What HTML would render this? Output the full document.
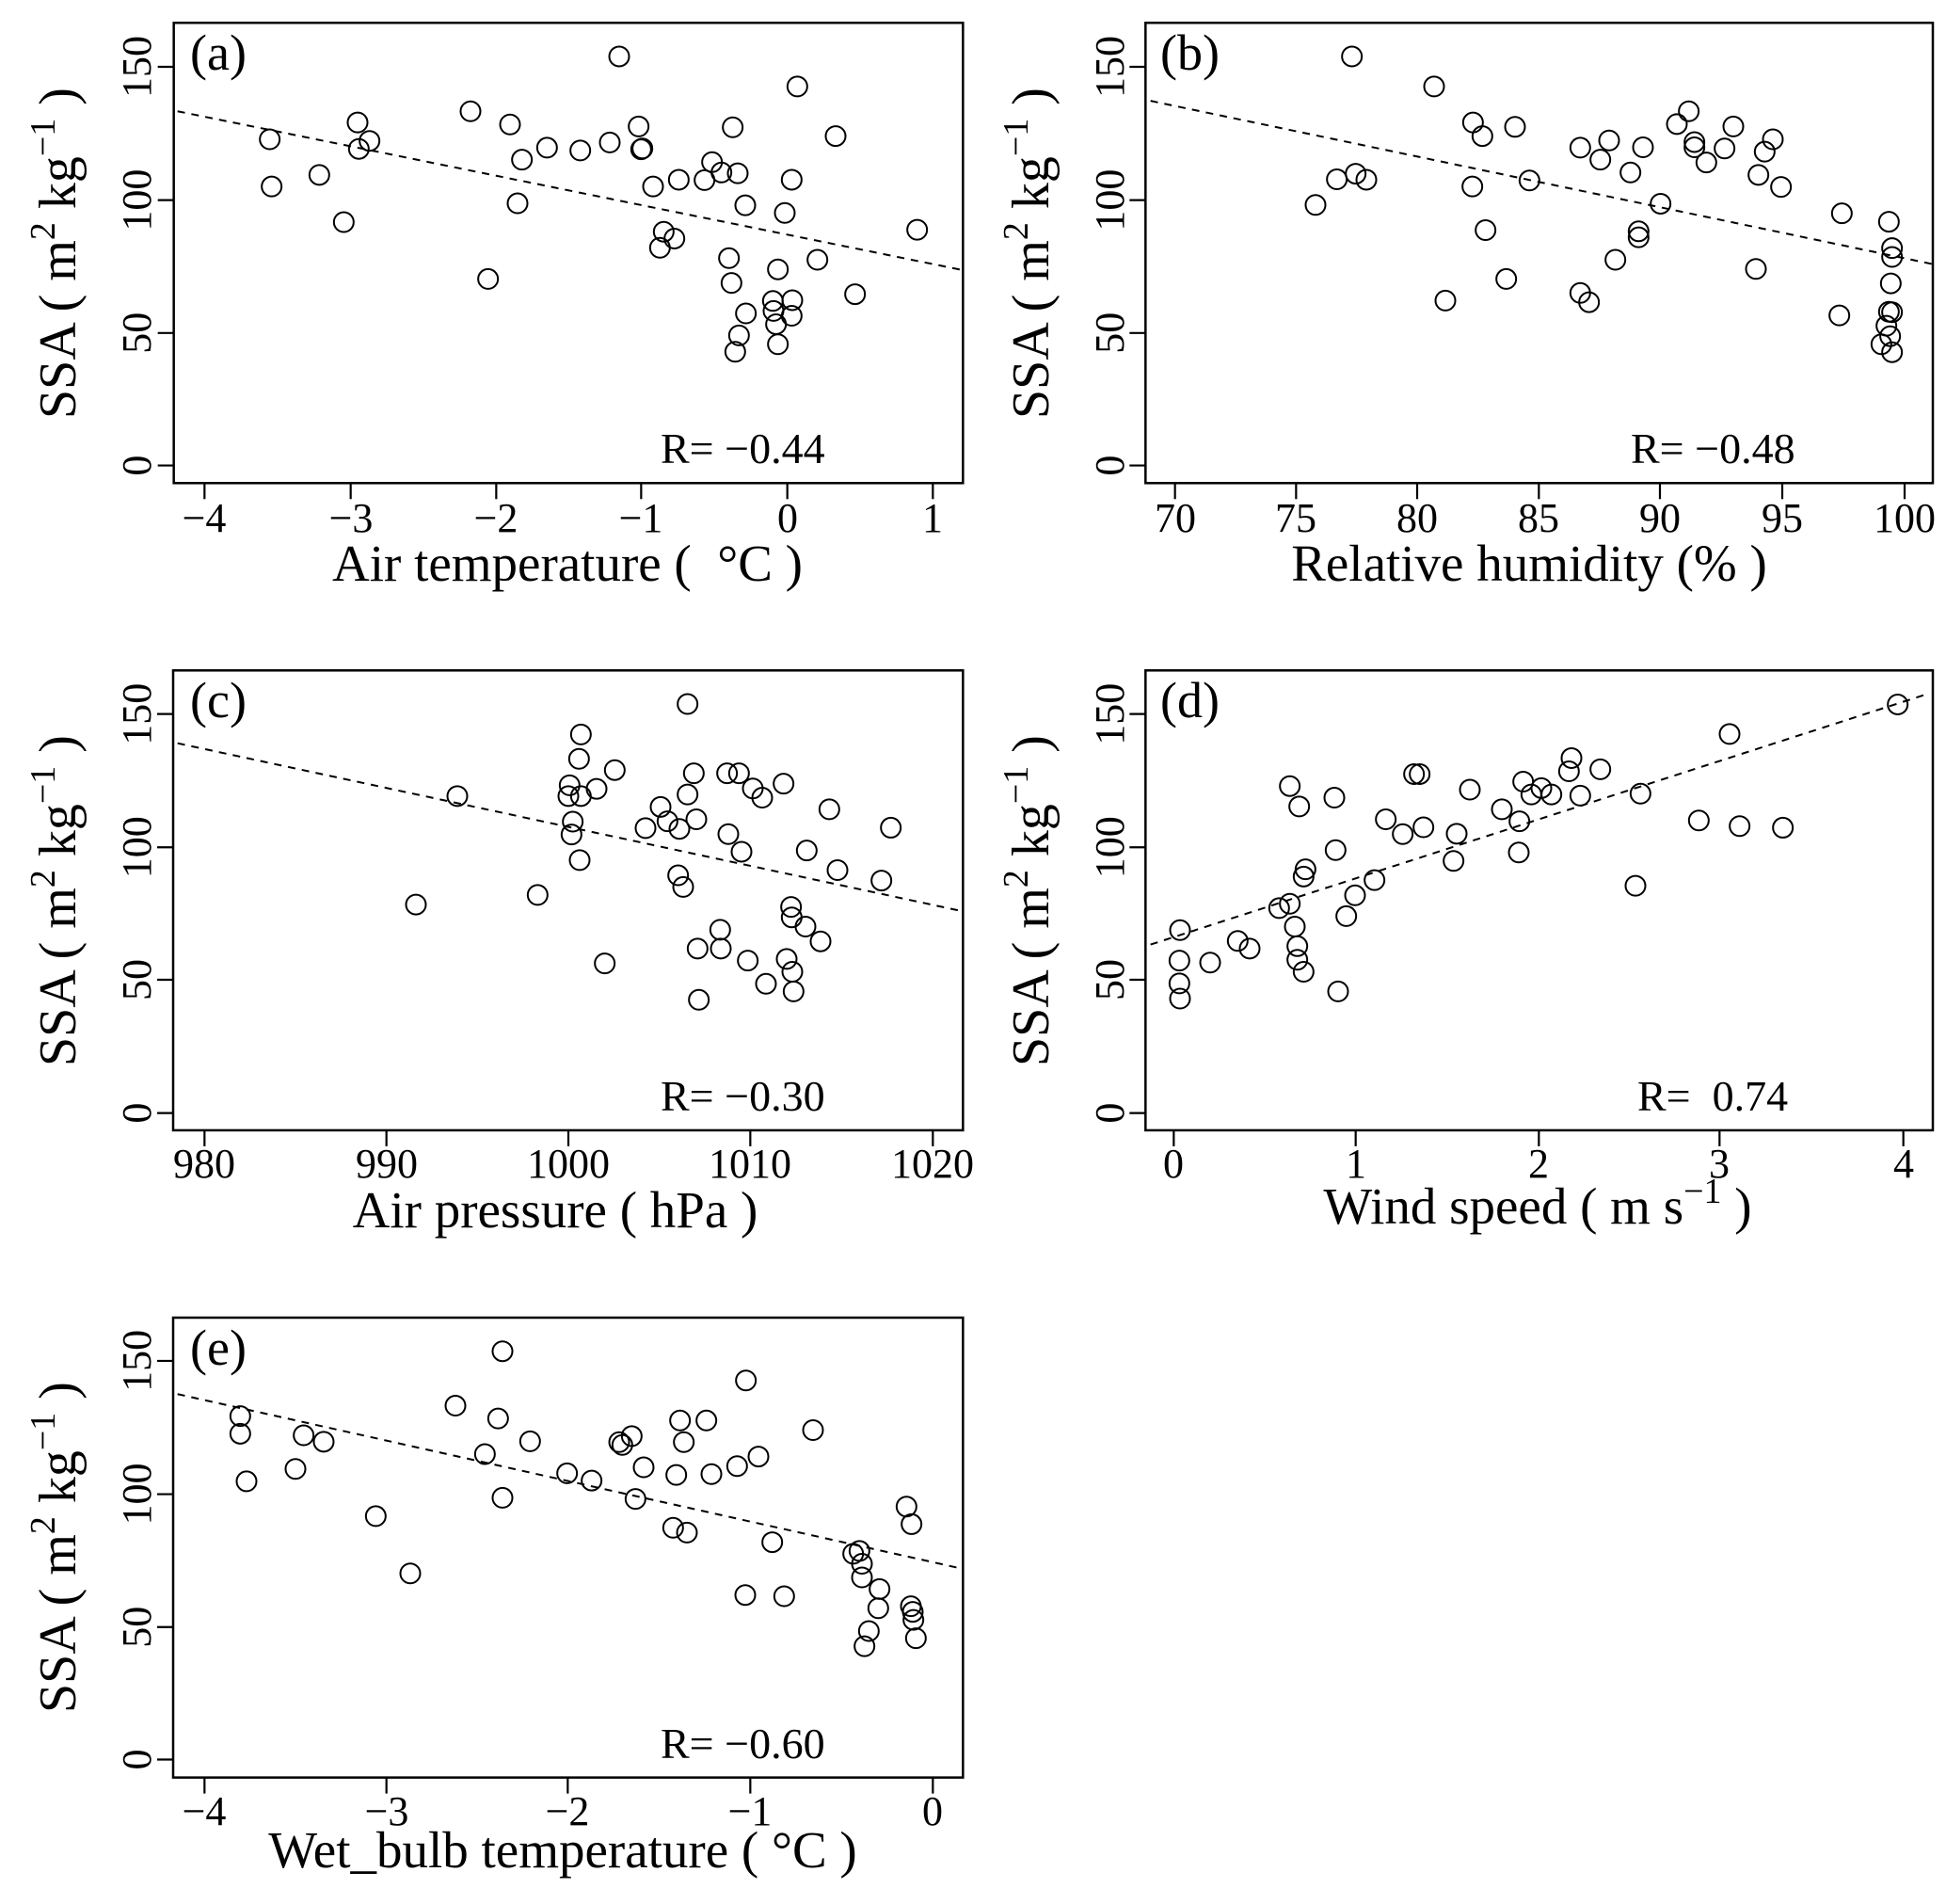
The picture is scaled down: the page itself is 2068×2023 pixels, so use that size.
<!DOCTYPE html>
<html><head><meta charset="utf-8"><style>
html,body{margin:0;padding:0;background:#fff}
svg{display:block}
text{font-family:"Liberation Serif",serif;fill:#000}
.tk{font-size:44px;text-anchor:middle}
.ti{font-size:55px;text-anchor:middle}
.yl{font-size:56px;text-anchor:middle}
.pl{font-size:54px}
.r{font-size:46px}
</style></head><body>
<svg id="s" width="2068" height="2023" viewBox="0 0 2068 2023" xmlns="http://www.w3.org/2000/svg">
<g id="g"></g>
<!-- Panel a -->
<g>
<text class="tk" transform="translate(160,71) rotate(-90)">150</text>
<text class="tk" transform="translate(160,212.6) rotate(-90)">100</text>
<text class="tk" transform="translate(160,353.8) rotate(-90)">50</text>
<text class="tk" transform="translate(160,494.6) rotate(-90)">0</text>
<text class="tk" x="217" y="565">−4</text><text class="tk" x="373" y="565">−3</text><text class="tk" x="527" y="565">−2</text><text class="tk" x="681" y="565">−1</text><text class="tk" x="837" y="565">0</text><text class="tk" x="991" y="565">1</text>
<text class="ti" x="603" y="617" xml:space="preserve">Air temperature (  °C )</text>
<text class="yl" transform="translate(80,269) rotate(-90)">SSA ( m<tspan dy="-22" font-size="38">2</tspan><tspan dy="22"> kg</tspan><tspan dy="-22" font-size="38">−1</tspan><tspan dy="22"> )</tspan></text>
<text class="pl" x="202" y="74">(a)</text>
<text class="r" x="702" y="492">R= −0.44</text>
</g>
<!-- Panel b -->
<g>
<text class="tk" transform="translate(1194,71) rotate(-90)">150</text>
<text class="tk" transform="translate(1194,212.6) rotate(-90)">100</text>
<text class="tk" transform="translate(1194,353.8) rotate(-90)">50</text>
<text class="tk" transform="translate(1194,494.6) rotate(-90)">0</text>
<text class="tk" x="1249" y="565">70</text><text class="tk" x="1377" y="565">75</text><text class="tk" x="1506" y="565">80</text><text class="tk" x="1635" y="565">85</text><text class="tk" x="1764" y="565">90</text><text class="tk" x="1894" y="565">95</text><text class="tk" x="2024" y="565">100</text>
<text class="ti" x="1625" y="617">Relative humidity (% )</text>
<text class="yl" transform="translate(1114,269) rotate(-90)">SSA ( m<tspan dy="-22" font-size="38">2</tspan><tspan dy="22"> kg</tspan><tspan dy="-22" font-size="38">−1</tspan><tspan dy="22"> )</tspan></text>
<text class="pl" x="1233" y="74">(b)</text>
<text class="r" x="1733" y="492">R= −0.48</text>
</g>
<!-- Panel c -->
<g>
<text class="tk" transform="translate(160,758.7) rotate(-90)">150</text>
<text class="tk" transform="translate(160,900.3) rotate(-90)">100</text>
<text class="tk" transform="translate(160,1041) rotate(-90)">50</text>
<text class="tk" transform="translate(160,1182.6) rotate(-90)">0</text>
<text class="tk" x="217" y="1251">980</text><text class="tk" x="411" y="1251">990</text><text class="tk" x="604" y="1251">1000</text><text class="tk" x="797" y="1251">1010</text><text class="tk" x="991" y="1251">1020</text>
<text class="ti" x="590" y="1304">Air pressure ( hPa )</text>
<text class="yl" transform="translate(80,957) rotate(-90)">SSA ( m<tspan dy="-22" font-size="38">2</tspan><tspan dy="22"> kg</tspan><tspan dy="-22" font-size="38">−1</tspan><tspan dy="22"> )</tspan></text>
<text class="pl" x="202" y="762">(c)</text>
<text class="r" x="702" y="1180">R= −0.30</text>
</g>
<!-- Panel d -->
<g>
<text class="tk" transform="translate(1194,758.7) rotate(-90)">150</text>
<text class="tk" transform="translate(1194,900.3) rotate(-90)">100</text>
<text class="tk" transform="translate(1194,1041) rotate(-90)">50</text>
<text class="tk" transform="translate(1194,1182.6) rotate(-90)">0</text>
<text class="tk" x="1247" y="1251">0</text><text class="tk" x="1441" y="1251">1</text><text class="tk" x="1635" y="1251">2</text><text class="tk" x="1827" y="1251">3</text><text class="tk" x="2023" y="1251">4</text>
<text class="ti" x="1634" y="1300">Wind speed ( m s<tspan dy="-22" font-size="38">−1</tspan><tspan dy="22"> )</tspan></text>
<text class="yl" transform="translate(1114,957) rotate(-90)">SSA ( m<tspan dy="-22" font-size="38">2</tspan><tspan dy="22"> kg</tspan><tspan dy="-22" font-size="38">−1</tspan><tspan dy="22"> )</tspan></text>
<text class="pl" x="1233" y="762">(d)</text>
<text class="r" x="1740" y="1180" xml:space="preserve">R=  0.74</text>
</g>
<!-- Panel e -->
<g>
<text class="tk" transform="translate(160,1445.9) rotate(-90)">150</text>
<text class="tk" transform="translate(160,1587.5) rotate(-90)">100</text>
<text class="tk" transform="translate(160,1728.7) rotate(-90)">50</text>
<text class="tk" transform="translate(160,1869.5) rotate(-90)">0</text>
<text class="tk" x="217" y="1939">−4</text><text class="tk" x="411" y="1939">−3</text><text class="tk" x="603" y="1939">−2</text><text class="tk" x="797" y="1939">−1</text><text class="tk" x="991" y="1939">0</text>
<text class="ti" x="598" y="1984">Wet_bulb temperature ( °C )</text>
<text class="yl" transform="translate(80,1644) rotate(-90)">SSA ( m<tspan dy="-22" font-size="38">2</tspan><tspan dy="22"> kg</tspan><tspan dy="-22" font-size="38">−1</tspan><tspan dy="22"> )</tspan></text>
<text class="pl" x="202" y="1450">(e)</text>
<text class="r" x="702" y="1868">R= −0.60</text>
</g>
</svg>
<script>
var NS="http://www.w3.org/2000/svg",G=document.getElementById("g");
function el(t,a){var e=document.createElementNS(NS,t);for(var k in a)e.setAttribute(k,a[k]);G.appendChild(e);}
var SX=1.5,SY=2.3515;
var P=[
{ox:0,oy:0,L:277,R:1535,T:57,B:1207,yt:[167,500,832,1163],xt:[326,559,791,1022,1255,1487],d:[283,278,1535,675],
p:[430,348,433,466,509,437,548,555,570,306,572,372,589,352,750,278,778,697,813,311,825,508,832,399,872,369,925,376,972,356,987,141,1018,316,1024,371,1022,373,1041,466,1058,579,1052,619,1075,596,1082,449,1123,450,1135,405,1150,431,1168,318,1176,433,1162,645,1166,707,1188,513,1189,783,1178,838,1172,879,1232,752,1233,777,1237,810,1240,860,1240,673,1251,532,1262,449,1263,750,1262,789,1271,216,1303,649,1332,340,1363,735,1462,574]},
{ox:1034,oy:0,L:275,R:1530,T:57,B:1207,yt:[167,500,832,1163],xt:[322,515,708,902,1095,1290,1485],d:[283,252,1530,660],
p:[604,141,735,216,546,512,580,448,610,434,627,449,753,751,797,306,812,340,796,466,817,575,850,697,864,317,887,451,968,369,968,732,982,755,1000,399,1014,351,1024,649,1048,431,1061,578,1061,593,1068,368,1096,509,1122,310,1141,278,1150,355,1150,368,1169,406,1198,371,1212,316,1248,672,1252,437,1262,379,1275,348,1288,467,1385,533,1381,788,1460,554,1465,620,1465,642,1463,708,1465,780,1460,779,1456,814,1462,840,1448,860,1465,880]},
{ox:0,oy:660,L:276,R:1535,T:123,B:1272,yt:[232,565,896,1229],xt:[326,616,906,1196,1487],d:[283,305,1535,725],
p:[663,708,729,437,857,684,906,437,908,410,913,501,911,533,924,597,926,283,923,344,926,437,951,419,964,855,980,372,1029,517,1053,464,1064,500,1083,519,1081,635,1089,664,1096,207,1096,433,1106,380,1110,495,1112,818,1114,946,1148,771,1149,818,1159,380,1161,532,1178,380,1182,576,1192,848,1200,418,1215,441,1221,906,1249,406,1254,844,1261,714,1262,740,1263,876,1265,925,1284,763,1286,573,1308,800,1322,470,1335,622,1405,648,1420,516]},
{ox:1034,oy:660,L:275,R:1530,T:123,B:1272,yt:[232,565,896,1229],xt:[320,610,902,1190,1483],d:[283,808,1525,180],
p:[330,772,329,848,329,905,330,943,378,853,422,799,441,818,488,717,505,706,505,412,520,463,513,763,517,812,517,846,527,876,527,638,530,620,576,441,578,572,595,737,582,925,609,685,640,647,658,495,685,532,703,382,712,382,718,515,766,599,771,531,792,421,843,470,870,578,871,500,877,401,890,433,906,417,922,433,954,342,950,375,968,436,1000,370,1056,661,1064,431,1157,498,1206,282,1222,512,1291,516,1474,208]},
{ox:0,oy:1363,L:276,R:1535,T:87,B:1236,yt:[195,528,860,1191],xt:[326,616,905,1196,1487],d:[283,278,1530,713],
p:[383,333,383,377,393,496,471,465,484,381,516,397,599,583,654,726,726,307,773,428,794,339,801,171,801,537,845,396,904,476,943,494,987,398,992,405,1007,383,1013,540,1026,461,1073,612,1078,480,1084,344,1090,398,1095,624,1126,344,1134,478,1175,458,1189,244,1188,780,1209,434,1231,648,1250,783,1296,368,1360,677,1370,670,1374,702,1374,736,1402,765,1400,813,1385,870,1378,908,1445,559,1453,603,1452,808,1455,822,1456,842,1460,888]}
];
P.forEach(function(q){
 function X(v){return q.ox+v/SX;} function Y(v){return q.oy+v/SY;}
 var L=X(q.L),R=X(q.R),T=Y(q.T),B=Y(q.B);
 el("rect",{x:L,y:T,width:R-L,height:B-T,fill:"none",stroke:"#000","stroke-width":2.5});
 q.yt.forEach(function(v){el("line",{x1:L-17,x2:L,y1:Y(v),y2:Y(v),stroke:"#000","stroke-width":2.2});});
 q.xt.forEach(function(v){el("line",{x1:X(v),x2:X(v),y1:B,y2:B+17,stroke:"#000","stroke-width":2.2});});
 el("line",{x1:X(q.d[0]),y1:Y(q.d[1]),x2:X(q.d[2]),y2:Y(q.d[3]),stroke:"#000","stroke-width":2,"stroke-dasharray":"8 7"});
 for(var i=0;i<q.p.length;i+=2){el("circle",{cx:X(q.p[i]),cy:Y(q.p[i+1]),r:10.5,fill:"none",stroke:"#000","stroke-width":2});}
});
</script>
</body></html>
